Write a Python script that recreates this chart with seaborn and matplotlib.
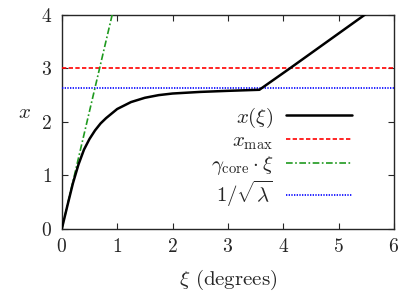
import numpy as np
import pandas as pd
import seaborn as sns
import matplotlib.pyplot as plt

# values
xi_curve = [0.0, 0.1, 0.2, 0.3, 0.4, 0.5, 0.6, 0.7, 0.8, 1.0, 1.25, 1.5, 1.75,
            2.0, 2.5, 3.0, 3.57, 4.12, 5.47, 6.0]
x_curve = [0.0, 0.43, 0.85, 1.2, 1.48, 1.68, 1.84, 1.97, 2.07, 2.24, 2.37, 2.45, 2.50,
           2.53, 2.56, 2.58, 2.60, 3.0, 4.0, 4.39]
x_max = 3.0
inv_sqrt_lambda = 2.64
gamma_core = 4.4
xi_gamma = [0.0, 0.95]
xi_range = [0.0, 6.0]

sns.set_style('ticks')
plt.rcParams['font.family'] = ['serif']
plt.rcParams['font.serif'] = ['cmr10', 'DejaVu Serif']
plt.rcParams['mathtext.fontset'] = 'cm'
plt.rcParams['axes.unicode_minus'] = False
plt.rcParams['axes.formatter.use_mathtext'] = True
plt.rcParams['font.size'] = 14

fig = plt.figure(figsize=(4.15, 3.05), dpi=100)
ax = fig.add_axes([0.149, 0.25, 0.8, 0.701])

curve = pd.DataFrame({'xi': xi_curve, 'x': x_curve})
sns.lineplot(data=curve, x='xi', y='x', ax=ax, color='black', lw=1.8,
             label=r'$x(\xi)$', zorder=5)
sns.lineplot(x=xi_range, y=[x_max, x_max], ax=ax, color='#ff0000', lw=1.2,
             label=r'$x_{\rm max}$', zorder=3)
ax.lines[-1].set_dashes([2.6, 1.4])
sns.lineplot(x=xi_gamma, y=[gamma_core * v for v in xi_gamma], ax=ax,
             color='#1f9a1f', lw=1.2, label=r'$\gamma_{\rm core}\cdot\xi$', zorder=4)
ax.lines[-1].set_dashes([4, 1.5, 1, 1.5])
sns.lineplot(x=xi_range, y=[inv_sqrt_lambda, inv_sqrt_lambda], ax=ax,
             color='#0000ff', lw=1.2, label=r'$1/\sqrt{\lambda}$', zorder=3)
ax.lines[-1].set_dashes([0.8, 0.8])

ax.set_xlim(0, 6)
ax.set_ylim(0, 4)
ax.set_xticks(range(0, 7))
ax.set_yticks(range(0, 5))
ax.tick_params(direction='in', top=True, right=True, length=4, width=0.8,
               labelsize=14, pad=7)
for s in ax.spines.values():
    s.set_linewidth(1.0)

ax.set_xlabel(r'$\xi$ (degrees)', fontsize=15, labelpad=8)
ax.set_ylabel(r'$x$', fontsize=15, rotation=0, labelpad=12)

ax.legend(loc='upper right', bbox_to_anchor=(0.9, 0.615), frameon=False,
          markerfirst=False, handlelength=3.2, fontsize=15,
          labelspacing=0.1, borderaxespad=0, handletextpad=0.6)

fig.savefig('out.png', dpi=100)
